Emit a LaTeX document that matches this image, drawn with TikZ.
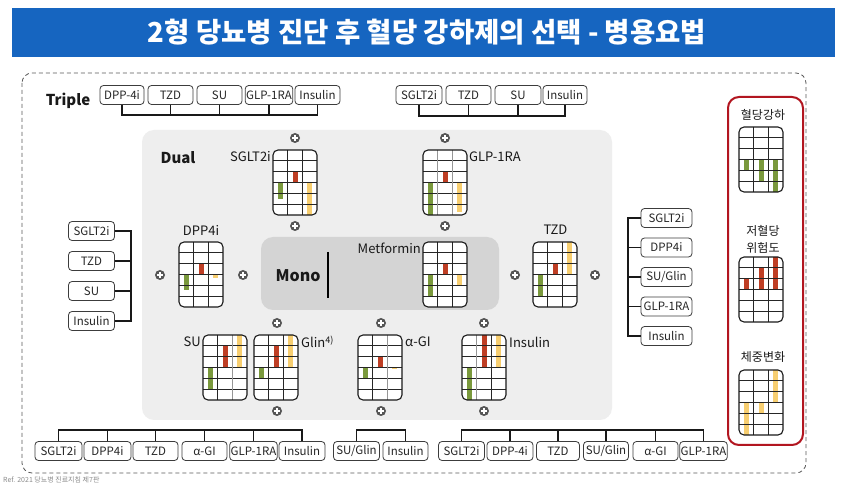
\documentclass[tikz,border=0pt]{standalone}
\usepackage{fontspec}
\setmainfont{Noto Sans CJK KR}
\definecolor{titleblue}{RGB}{22,101,192}
\definecolor{bgray}{RGB}{238,238,238}
\definecolor{mgray}{RGB}{212,212,212}
\definecolor{cgreen}{RGB}{122,153,60}
\definecolor{cred}{RGB}{190,62,36}
\definecolor{cyellow}{RGB}{247,206,112}
\definecolor{legred}{RGB}{178,22,32}
\definecolor{plusc}{RGB}{85,85,85}
\definecolor{boxc}{RGB}{60,60,60}
\definecolor{lgray}{RGB}{150,150,150}
\newcommand\myfs[1]{\fontsize{#1}{#1}\selectfont}
\newcommand\drbar[5]{%
  \fill[#4] ({#1+(#3-0.5)*44/3-2.5},{#2+32.5}) rectangle ++(5,{-(#5)*65/6});
}
\newcommand\drlines[4]{%
  \foreach \k in {1,...,5} {\draw[gline] (#1,{#2+\k*65/6}) -- ++(44,0);}
  \draw[gline,#3] ({#1+44/3},#2) -- ++(0,65);
  \draw[gline,#4] ({#1+88/3},#2) -- ++(0,65);
  \draw[gframe] (#1,#2) rectangle ++(44,65);
}
\newcommand\drchart[7]{%
  \fill[white,rounded corners=5pt] (#1,#2) rectangle ++(44,65);
  \drbar{#1}{#2}{1}{cgreen}{#3}
  \drbar{#1}{#2}{2}{cred}{#4}
  \drbar{#1}{#2}{3}{cyellow}{#5}
  \drlines{#1}{#2}{#6}{#7}
}
\begin{document}
\begin{tikzpicture}[x=1pt,y=-1pt,
  lbl/.style={draw=boxc,line width=0.8pt,rounded corners=3.5pt,minimum height=19pt,inner sep=1pt,font=\myfs{11.5},text=black!85},
  brk/.style={line width=1.6pt,black!90},
  gline/.style={line width=0.9pt,black!85},
  gframe/.style={line width=1.1pt,black!90,rounded corners=5pt},
  plusicon/.style={circle,fill=plusc,minimum size=10pt,inner sep=0pt,
    path picture={\draw[white,line width=1.5pt]
      ([xshift=-2.8pt]path picture bounding box.center) -- ([xshift=2.8pt]path picture bounding box.center)
      ([yshift=-2.8pt]path picture bounding box.center) -- ([yshift=2.8pt]path picture bounding box.center);}},
  clabel/.style={font=\myfs{13},text=black!90,inner sep=1pt},
  bigl/.style={font=\bfseries\myfs{15},text=black!90,inner sep=0pt},
  legl/.style={font=\myfs{12},text=black!90,inner sep=0pt}]
\fill[white] (0,0) rectangle (855,486);
\useasboundingbox (0,0) rectangle (855,486);

% title
\fill[titleblue] (12,8) rectangle (835,57);
\node[font=\bfseries\myfs{27.5},text=white] (title) at (427,32) {2형 당뇨병 진단 후 혈당 강하제의 선택 - 병용요법};

% dashed frame
\draw[lgray!60!black,line width=0.8pt,dash pattern=on 4pt off 3pt,rounded corners=10pt] (22,73) rectangle (806,473);

% gray areas
\fill[bgray,rounded corners=12pt] (142,130) rectangle (612,420);
\fill[mgray,rounded corners=12pt] (261,237) rectangle (499,310);
\node[bigl,font=\bfseries\myfs{16}] (mono) at (298,276) {Mono};
\draw[line width=1.2pt,black] (328,252) -- (328,298);
\node[bigl] (dual) at (178,158) {Dual};
\node[bigl] (triple) at (68,101) {Triple};

% top-left triple
\node[lbl,minimum width=44pt] (tl1) at (122,95) {DPP-4i};
\node[lbl,minimum width=45pt] (tl2) at (170.5,95) {TZD};
\node[lbl,minimum width=45pt] (tl3) at (219.5,95) {SU};
\node[lbl,minimum width=46pt] (tl4) at (269,95) {GLP-1RA};
\node[lbl,minimum width=45pt] (tl5) at (317.5,95) {Insulin};
\coordinate (tlb) at (0,115);
\draw[brk] (tl1.south) -- (tl1.south |- tlb) -- (tl5.south |- tlb) -- (tl5.south);
\foreach \n in {tl2,tl3,tl4} {\draw[brk] (\n.south) -- (\n.south |- tlb);}

% top-right triple
\node[lbl,minimum width=46pt] (tr1) at (419,95) {SGLT2i};
\node[lbl,minimum width=45pt] (tr2) at (468.5,95) {TZD};
\node[lbl,minimum width=46pt] (tr3) at (518,95) {SU};
\node[lbl,minimum width=44pt] (tr4) at (565,95) {Insulin};
\coordinate (trb) at (0,116);
\draw[brk] (tr1.south) -- (tr1.south |- trb) -- (tr4.south |- trb) -- (tr4.south);
\foreach \n in {tr2,tr3} {\draw[brk] (\n.south) -- (\n.south |- trb);}

% left list
\node[lbl,minimum width=46pt] (l1) at (91.5,231) {SGLT2i};
\node[lbl,minimum width=46pt] (l2) at (91.5,261) {TZD};
\node[lbl,minimum width=46pt] (l3) at (91.5,291) {SU};
\node[lbl,minimum width=46pt] (l4) at (91.5,321) {Insulin};
\coordinate (lb) at (131,0);
\draw[brk] (l1.east) -- (l1.east -| lb) -- (l4.east -| lb) -- (l4.east);
\foreach \n in {l2,l3} {\draw[brk] (\n.east) -- (\n.east -| lb);}

% right list
\node[lbl,minimum width=51pt] (r1) at (666.5,218) {SGLT2i};
\node[lbl,minimum width=51pt] (r2) at (666.5,247.5) {DPP4i};
\node[lbl,minimum width=51pt] (r3) at (666.5,277) {SU/Glin};
\node[lbl,minimum width=51pt] (r4) at (666.5,306.5) {GLP-1RA};
\node[lbl,minimum width=51pt] (r5) at (666.5,336) {Insulin};
\coordinate (rb) at (628,0);
\draw[brk] (r1.west) -- (r1.west -| rb) -- (r5.west -| rb) -- (r5.west);
\foreach \n in {r2,r3,r4} {\draw[brk] (\n.west) -- (\n.west -| rb);}

% bottom lists
\node[lbl,minimum width=47pt] (b1) at (58.5,451) {SGLT2i};
\node[lbl,minimum width=47pt] (b2) at (107.5,451) {DPP4i};
\node[lbl,minimum width=45pt] (b3) at (155.5,451) {TZD};
\node[lbl,minimum width=45pt] (b4) at (204.5,451) {α-GI};
\node[lbl,minimum width=47pt] (b5) at (253.5,451) {GLP-1RA};
\node[lbl,minimum width=46pt] (b6) at (302,451) {Insulin};
\node[lbl,minimum width=46pt] (c1) at (356.5,451) {SU/Glin};
\node[lbl,minimum width=45pt] (c2) at (405.5,451) {Insulin};
\node[lbl,minimum width=46pt] (d1) at (461.5,451) {SGLT2i};
\node[lbl,minimum width=46pt] (d2) at (510,451) {DPP-4i};
\node[lbl,minimum width=43pt] (d3) at (558,451) {TZD};
\node[lbl,minimum width=45pt] (d4) at (606,451) {SU/Glin};
\node[lbl,minimum width=45pt] (d5) at (655.5,451) {α-GI};
\node[lbl,minimum width=46pt] (d6) at (703.5,451) {GLP-1RA};
\coordinate (bb) at (0,430);
\draw[brk] (b1.north) -- (b1.north |- bb) -- (b6.north |- bb) -- (b6.north);
\foreach \n in {b2,b3,b4,b5} {\draw[brk] (\n.north) -- (\n.north |- bb);}
\draw[brk] (c1.north) -- (c1.north |- bb) -- (c2.north |- bb) -- (c2.north);
\draw[brk] (d1.north) -- (d1.north |- bb) -- (d6.north |- bb) -- (d6.north);
\foreach \n in {d2,d3,d4,d5} {\draw[brk] (\n.north) -- (\n.north |- bb);}

% charts
\drchart{273}{150}{-1.5}{1}{-3}{black!85}{black!85}
\drchart{423}{150}{-3}{1}{-2.7}{lgray}{lgray}
\drchart{179}{242}{-1.4}{1}{-0.3}{black!85}{black!85}
\drchart{423}{242}{-2}{1}{-1}{black!85}{black!85}
\drchart{533}{242}{-2}{1}{3}{black!85}{black!85}
\drchart{203}{335}{-2}{2}{3}{black!85}{lgray}
\drchart{254}{335}{-1}{2}{3}{black!85}{black!85}
\drchart{358}{335}{-1}{1}{-0.15}{black!85}{lgray}
\drchart{462}{335}{-3}{3}{3}{lgray}{black!85}

% chart labels
\node[clabel,anchor=east] (sglt) at (272,157) {SGLT2i};
\node[clabel,anchor=west] (glp) at (468,157) {GLP-1RA};
\node[clabel] (dpp) at (201,230) {DPP4i};
\node[clabel,anchor=east] (met) at (422,248) {Metformin};
\node[clabel] (tzd) at (555.5,230) {TZD};
\node[clabel,anchor=east] (su) at (202,342) {SU};
\node[clabel,anchor=west] (glin) at (300,342) {Glin\textsuperscript{4)}};
\node[clabel,anchor=west] (agi) at (404,342) {α-GI};
\node[clabel,anchor=west] (ins) at (508,342) {Insulin};

% plus icons
\node[plusicon] (p1) at (295,138) {};
\node[plusicon] (p2) at (295,226) {};
\node[plusicon] (p3) at (445,138) {};
\node[plusicon] (p4) at (445,226) {};
\node[plusicon] (p5) at (160,275) {};
\node[plusicon] (p6) at (243,275) {};
\node[plusicon] (p7) at (515,275) {};
\node[plusicon] (p8) at (595,275) {};
\node[plusicon] (p9) at (277,323) {};
\node[plusicon] (p10) at (277,411) {};
\node[plusicon] (p11) at (381,323) {};
\node[plusicon] (p12) at (381,411) {};
\node[plusicon] (p13) at (484,323) {};
\node[plusicon] (p14) at (484,411) {};

% legend
\draw[legred,line width=2pt,rounded corners=11pt] (728,97) rectangle (803,445);
\node[legl] (lg1) at (763,115) {혈당강하};
\fill[white,rounded corners=5pt] (739,127) rectangle ++(44,65);
\drbar{739}{127}{1}{cgreen}{-1}
\drbar{739}{127}{2}{cgreen}{-2}
\drbar{739}{127}{3}{cgreen}{-3}
\drlines{739}{127}{black!85}{black!85}
\node[legl] (lg2) at (763,231) {저혈당};
\node[legl] (lg3) at (763,248) {위험도};
\fill[white,rounded corners=5pt] (739,257) rectangle ++(44,65);
\drbar{739}{257}{1}{cred}{1}
\drbar{739}{257}{2}{cred}{2}
\drbar{739}{257}{3}{cred}{3}
\drlines{739}{257}{black!85}{black!85}
\node[legl] (lg4) at (763,357) {체중변화};
\fill[white,rounded corners=5pt] (739,370) rectangle ++(44,65);
\drbar{739}{370}{1}{cyellow}{-3}
\drbar{739}{370}{2}{cyellow}{-1}
\drbar{739}{370}{3}{cyellow}{3}
\drlines{739}{370}{black!85}{black!85}

% reference
\node[anchor=west,font=\myfs{7},text=black!45,inner sep=0pt] (ref) at (3,480) {Ref. 2021 당뇨병 진료지침 제7판};
\end{tikzpicture}
\end{document}
